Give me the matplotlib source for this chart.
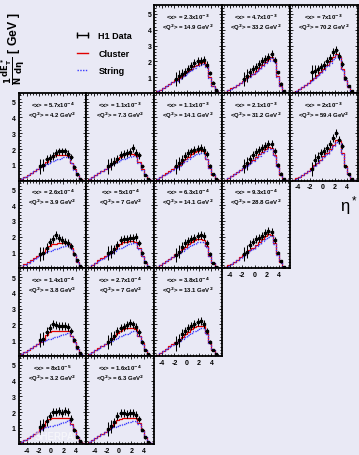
import matplotlib.pyplot as plt
import numpy as np
from matplotlib.ticker import AutoMinorLocator
from matplotlib.lines import Line2D

plt.rcParams['font.family'] = ['Liberation Sans', 'DejaVu Sans']
plt.rcParams['font.weight'] = 'bold'
plt.rcParams['mathtext.default'] = 'bf'
plt.rcParams['axes.unicode_minus'] = False

bg = '#e9e9f5'

# MC bin edges (eta*) and H1 data points
edges = np.arange(-5.0, 5.51, 0.5)
eta_data = [-1.75, -1.25, -0.75, -0.25, 0.25, 0.75, 1.25, 1.75, 2.25, 2.75, 3.25, 3.75, 4.25, 4.75]
h1_err = [0.45, 0.4, 0.3, 0.25, 0.25, 0.25, 0.25, 0.25, 0.25, 0.25, 0.2, 0.12, 0.08, 0.05]

# grid position (row, col) of each panel
panel_rc = [(0, 2), (0, 3), (0, 4),
            (1, 0), (1, 1), (1, 2), (1, 3), (1, 4),
            (2, 0), (2, 1), (2, 2), (2, 3),
            (3, 0), (3, 1), (3, 2),
            (4, 0), (4, 1)]

x_labels = ['2.3x10$^{-3}$', '4.7x10$^{-3}$', '7x10$^{-3}$',
            '5.7x10$^{-4}$', '1.1x10$^{-3}$', '1.1x10$^{-3}$', '2.1x10$^{-3}$', '2x10$^{-3}$',
            '2.6x10$^{-4}$', '5x10$^{-4}$', '6.3x10$^{-4}$', '9.3x10$^{-4}$',
            '1.4x10$^{-4}$', '2.7x10$^{-4}$', '3.8x10$^{-4}$',
            '8x10$^{-5}$', '1.6x10$^{-4}$']
q2_labels = ['14.9', '33.2', '70.2',
             '4.2', '7.3', '14.1', '31.2', '59.4',
             '3.9', '7', '14.1', '28.8',
             '3.8', '7', '13.1',
             '3.2', '6.3']

cluster = [
    [0.1, 0.22, 0.34, 0.46, 0.58, 0.7, 0.82, 0.95, 1.1, 1.25, 1.4, 1.55, 1.68, 1.8, 1.9, 1.95, 1.7, 1.0, 0.45, 0.12, 0.03],
    [0.06, 0.17, 0.29, 0.41, 0.53, 0.65, 0.78, 0.92, 1.07, 1.23, 1.4, 1.58, 1.78, 1.97, 2.15, 2.28, 2.0, 1.05, 0.45, 0.12, 0.03],
    [0.05, 0.14, 0.25, 0.37, 0.5, 0.64, 0.8, 0.97, 1.15, 1.34, 1.55, 1.78, 2.02, 2.25, 2.48, 2.3, 1.5, 0.85, 0.4, 0.1, 0.02],
    [0.13, 0.25, 0.37, 0.5, 0.62, 0.75, 0.88, 1.02, 1.2, 1.38, 1.52, 1.6, 1.64, 1.65, 1.65, 1.58, 1.15, 0.72, 0.35, 0.1, 0.02],
    [0.12, 0.24, 0.36, 0.49, 0.62, 0.75, 0.89, 1.04, 1.2, 1.37, 1.52, 1.62, 1.68, 1.7, 1.72, 1.65, 1.2, 0.72, 0.33, 0.1, 0.02],
    [0.1, 0.22, 0.34, 0.47, 0.6, 0.73, 0.87, 1.02, 1.18, 1.35, 1.52, 1.67, 1.8, 1.88, 1.92, 1.88, 1.4, 0.8, 0.35, 0.1, 0.02],
    [0.07, 0.18, 0.3, 0.42, 0.55, 0.68, 0.82, 0.97, 1.13, 1.3, 1.48, 1.66, 1.84, 2.0, 2.12, 2.1, 1.6, 0.9, 0.38, 0.1, 0.02],
    [0.05, 0.14, 0.25, 0.37, 0.5, 0.64, 0.8, 0.97, 1.15, 1.34, 1.55, 1.78, 2.02, 2.28, 2.55, 2.5, 1.75, 0.9, 0.4, 0.1, 0.02],
    [0.12, 0.25, 0.38, 0.5, 0.63, 0.76, 0.9, 1.05, 1.25, 1.42, 1.52, 1.57, 1.58, 1.6, 1.6, 1.55, 1.3, 0.85, 0.42, 0.12, 0.02],
    [0.12, 0.24, 0.37, 0.5, 0.63, 0.77, 0.91, 1.06, 1.23, 1.4, 1.55, 1.65, 1.7, 1.72, 1.73, 1.68, 1.3, 0.78, 0.35, 0.1, 0.02],
    [0.1, 0.22, 0.34, 0.47, 0.6, 0.74, 0.88, 1.03, 1.2, 1.37, 1.53, 1.67, 1.77, 1.83, 1.86, 1.82, 1.4, 0.8, 0.35, 0.1, 0.02],
    [0.08, 0.19, 0.31, 0.43, 0.56, 0.69, 0.83, 0.98, 1.14, 1.31, 1.49, 1.67, 1.85, 2.02, 2.15, 2.12, 1.6, 0.88, 0.38, 0.1, 0.02],
    [0.15, 0.28, 0.4, 0.52, 0.64, 0.77, 0.9, 1.05, 1.35, 1.55, 1.6, 1.6, 1.6, 1.6, 1.6, 1.58, 1.3, 0.9, 0.45, 0.15, 0.03],
    [0.12, 0.24, 0.37, 0.5, 0.63, 0.77, 0.91, 1.06, 1.25, 1.45, 1.62, 1.72, 1.77, 1.78, 1.78, 1.72, 1.3, 0.8, 0.38, 0.1, 0.02],
    [0.1, 0.22, 0.35, 0.48, 0.61, 0.75, 0.89, 1.04, 1.2, 1.37, 1.54, 1.7, 1.82, 1.9, 1.93, 1.9, 1.45, 0.85, 0.38, 0.1, 0.02],
    [0.12, 0.25, 0.38, 0.5, 0.63, 0.77, 0.92, 1.05, 1.45, 1.6, 1.65, 1.66, 1.66, 1.66, 1.66, 1.62, 1.25, 0.85, 0.4, 0.13, 0.03],
    [0.12, 0.25, 0.37, 0.5, 0.63, 0.77, 0.92, 1.08, 1.3, 1.5, 1.6, 1.63, 1.63, 1.63, 1.65, 1.62, 1.3, 0.85, 0.4, 0.12, 0.02],
]

string = [
    [0.1, 0.21, 0.33, 0.44, 0.55, 0.67, 0.78, 0.9, 1.03, 1.16, 1.3, 1.43, 1.56, 1.68, 1.78, 1.83, 1.62, 0.98, 0.45, 0.12, 0.03],
    [0.06, 0.16, 0.28, 0.4, 0.52, 0.64, 0.76, 0.89, 1.03, 1.18, 1.34, 1.51, 1.7, 1.88, 2.05, 2.2, 1.95, 1.02, 0.45, 0.12, 0.03],
    [0.05, 0.13, 0.24, 0.36, 0.49, 0.62, 0.77, 0.93, 1.1, 1.28, 1.48, 1.7, 1.93, 2.16, 2.38, 2.22, 1.45, 0.83, 0.4, 0.1, 0.02],
    [0.13, 0.24, 0.36, 0.48, 0.6, 0.72, 0.84, 0.96, 1.06, 1.15, 1.23, 1.3, 1.37, 1.44, 1.5, 1.52, 1.12, 0.7, 0.35, 0.1, 0.02],
    [0.12, 0.23, 0.35, 0.47, 0.6, 0.72, 0.85, 0.98, 1.1, 1.21, 1.3, 1.38, 1.45, 1.52, 1.57, 1.55, 1.15, 0.7, 0.33, 0.1, 0.02],
    [0.1, 0.21, 0.33, 0.45, 0.57, 0.7, 0.83, 0.96, 1.1, 1.24, 1.38, 1.5, 1.62, 1.72, 1.78, 1.78, 1.35, 0.78, 0.35, 0.1, 0.02],
    [0.07, 0.17, 0.29, 0.41, 0.53, 0.66, 0.79, 0.93, 1.08, 1.24, 1.41, 1.58, 1.74, 1.88, 2.0, 2.0, 1.55, 0.88, 0.38, 0.1, 0.02],
    [0.05, 0.13, 0.24, 0.36, 0.49, 0.62, 0.77, 0.93, 1.1, 1.28, 1.48, 1.7, 1.93, 2.18, 2.42, 2.4, 1.7, 0.88, 0.4, 0.1, 0.02],
    [0.12, 0.24, 0.37, 0.49, 0.62, 0.74, 0.86, 0.97, 1.05, 1.12, 1.18, 1.24, 1.3, 1.36, 1.42, 1.45, 1.25, 0.82, 0.42, 0.12, 0.02],
    [0.12, 0.23, 0.36, 0.48, 0.61, 0.74, 0.87, 0.99, 1.1, 1.2, 1.29, 1.37, 1.45, 1.52, 1.58, 1.58, 1.25, 0.76, 0.35, 0.1, 0.02],
    [0.1, 0.21, 0.33, 0.45, 0.57, 0.7, 0.83, 0.96, 1.09, 1.22, 1.34, 1.45, 1.55, 1.64, 1.7, 1.7, 1.35, 0.78, 0.35, 0.1, 0.02],
    [0.08, 0.18, 0.3, 0.42, 0.54, 0.67, 0.8, 0.94, 1.09, 1.24, 1.4, 1.56, 1.72, 1.88, 2.0, 2.02, 1.55, 0.86, 0.38, 0.1, 0.02],
    [0.15, 0.27, 0.39, 0.51, 0.63, 0.75, 0.87, 0.97, 1.03, 1.1, 1.16, 1.22, 1.28, 1.34, 1.4, 1.45, 1.25, 0.88, 0.45, 0.15, 0.03],
    [0.12, 0.23, 0.36, 0.48, 0.61, 0.74, 0.87, 0.98, 1.08, 1.17, 1.25, 1.33, 1.41, 1.49, 1.57, 1.6, 1.25, 0.78, 0.38, 0.1, 0.02],
    [0.1, 0.21, 0.34, 0.46, 0.58, 0.71, 0.84, 0.97, 1.1, 1.23, 1.35, 1.47, 1.58, 1.68, 1.75, 1.78, 1.4, 0.83, 0.38, 0.1, 0.02],
    [0.12, 0.24, 0.37, 0.49, 0.62, 0.75, 0.88, 0.98, 1.04, 1.1, 1.15, 1.2, 1.26, 1.32, 1.4, 1.5, 1.2, 0.83, 0.4, 0.13, 0.03],
    [0.12, 0.24, 0.36, 0.49, 0.61, 0.74, 0.87, 0.98, 1.06, 1.13, 1.19, 1.25, 1.3, 1.36, 1.42, 1.47, 1.25, 0.83, 0.4, 0.12, 0.02],
]

h1_data = [
    [0.9, 1.05, 1.2, 1.35, 1.55, 1.7, 1.9, 2.0, 2.05, 2.1, 1.8, 1.25, 0.65, 0.2],
    [0.9, 1.1, 1.3, 1.5, 1.65, 1.85, 2.05, 2.15, 2.25, 2.45, 2.1, 1.3, 0.6, 0.15],
    [1.3, 1.4, 1.5, 1.65, 1.8, 2.0, 2.2, 2.6, 2.7, 2.35, 1.85, 0.95, 0.45, 0.12],
    [0.9, 1.0, 1.35, 1.45, 1.55, 1.75, 1.85, 1.85, 1.85, 1.7, 1.5, 0.85, 0.4, 0.1],
    [0.9, 1.05, 1.2, 1.4, 1.6, 1.7, 1.75, 1.8, 2.05, 1.75, 1.6, 0.9, 0.35, 0.1],
    [0.9, 1.1, 1.3, 1.55, 1.75, 1.85, 1.95, 2.0, 2.05, 1.95, 1.7, 0.95, 0.4, 0.12],
    [0.95, 1.1, 1.35, 1.6, 1.8, 1.95, 2.05, 2.2, 2.35, 2.3, 1.9, 1.0, 0.45, 0.12],
    [0.75, 1.3, 1.5, 1.75, 1.9, 2.05, 2.35, 2.7, 3.0, 2.55, 2.2, 0.9, 0.4, 0.12],
    [0.9, 0.95, 1.3, 1.65, 1.85, 2.1, 1.9, 1.8, 1.7, 1.6, 1.4, 0.9, 0.5, 0.15],
    [0.95, 1.05, 1.2, 1.5, 1.8, 1.85, 1.85, 1.9, 1.95, 2.0, 1.6, 0.95, 0.4, 0.1],
    [0.85, 1.05, 1.35, 1.6, 1.75, 1.85, 1.95, 2.05, 2.1, 2.05, 1.6, 0.9, 0.35, 0.1],
    [0.9, 1.05, 1.5, 1.7, 1.85, 1.95, 2.05, 2.25, 2.35, 2.3, 1.8, 1.0, 0.45, 0.12],
    [1.0, 1.1, 1.55, 1.75, 2.05, 1.95, 1.9, 1.9, 1.9, 1.85, 1.6, 1.05, 0.55, 0.2],
    [0.9, 1.1, 1.3, 1.6, 1.75, 1.85, 1.95, 2.1, 2.0, 1.85, 1.5, 0.9, 0.4, 0.12],
    [0.8, 1.0, 1.4, 1.6, 1.8, 1.9, 2.05, 2.15, 2.2, 2.05, 1.6, 0.9, 0.4, 0.12],
    [1.05, 1.2, 1.45, 1.75, 2.0, 2.0, 2.05, 1.95, 2.1, 2.0, 1.6, 0.85, 0.45, 0.15],
    [0.95, 1.1, 1.35, 1.75, 1.95, 1.95, 1.9, 1.95, 1.95, 1.85, 1.55, 0.9, 0.4, 0.12],
]

W, H = 359.0, 456.0
x0, y0 = 18.5, 6.3
pw, ph = 67.8, 87.7

fig = plt.figure(figsize=(W / 100, H / 100), dpi=100, facecolor=bg)

for i, (r, c) in enumerate(panel_rc):
    ax = fig.add_axes([(x0 + c * pw) / W, 1 - (y0 + (r + 1) * ph) / H, pw / W, ph / H])
    ax.set_facecolor(bg)
    ax.stairs(cluster[i], edges, color='#e00000', lw=0.9)
    ax.stairs(string[i], edges, color='#3a3aff', lw=1.0, ls=(0, (1, 1)))
    ax.errorbar(eta_data, h1_data[i], xerr=0.25, yerr=h1_err, fmt='s', ms=1.8,
                color='k', elinewidth=0.75, capsize=0)
    ax.set_xlim(-5.3, 5.7)
    ax.set_ylim(0, 5.55)
    ax.set_xticks([-4, -2, 0, 2, 4])
    ax.set_yticks([1, 2, 3, 4, 5])
    ax.xaxis.set_minor_locator(AutoMinorLocator(4))
    ax.yaxis.set_minor_locator(AutoMinorLocator(5))
    ax.tick_params(which='both', direction='in', top=True, right=True, width=0.6,
                   labelsize=5, pad=2)
    ax.tick_params(which='major', length=2.5)
    ax.tick_params(which='minor', length=1.2)
    show_y = (c == 0) or (r, c) == (0, 2)
    show_x = (r + 1, c) not in panel_rc
    ax.tick_params(labelleft=show_y, labelbottom=show_x)
    for s in ax.spines.values():
        s.set_linewidth(1.3)
    ax.text(0.5, 0.875, '<x> = ' + x_labels[i], transform=ax.transAxes,
            ha='center', va='center', fontsize=4.3)
    ax.text(0.5, 0.755, '<Q$^2$> = ' + q2_labels[i] + ' GeV$^2$', transform=ax.transAxes,
            ha='center', va='center', fontsize=4.3)
    if (r, c) == (4, 0):
        ax.text(0.53, 0.09, 'SHERPA', transform=ax.transAxes, ha='center', va='center',
                fontsize=7, color='white', alpha=0.55)

# legend
lax = fig.add_axes([0, 0, 1, 1], facecolor='none')
lax.set_axis_off()
h_d = Line2D([], [], color='k', lw=1.0, marker='|', ms=4, mew=1.0)
h_cl = Line2D([], [], color='#e00000', lw=1.0)
h_st = Line2D([], [], color='#3a3aff', lw=1.0, ls=(0, (1, 1)))
lax.legend([h_d, h_cl, h_st], ['H1 Data', 'Cluster', 'String'], loc='upper left',
           bbox_to_anchor=(66 / W, 1 - 24 / H), frameon=False, fontsize=6.5,
           handlelength=1.8, labelspacing=0.95, handletextpad=0.9, numpoints=2)

fig.text(13 / W, 1 - 49 / H, r'$\frac{1}{N}\frac{dE_T^*}{d\eta}$ [ GeV ]', rotation=90,
         ha='center', va='center', fontsize=8.8)
fig.text(349 / W, 1 - 206 / H, r'$\mathregular{\eta^*}$', ha='center', va='center',
         fontsize=12, fontweight='normal')

fig.savefig('out.png', dpi=100, facecolor=bg)
